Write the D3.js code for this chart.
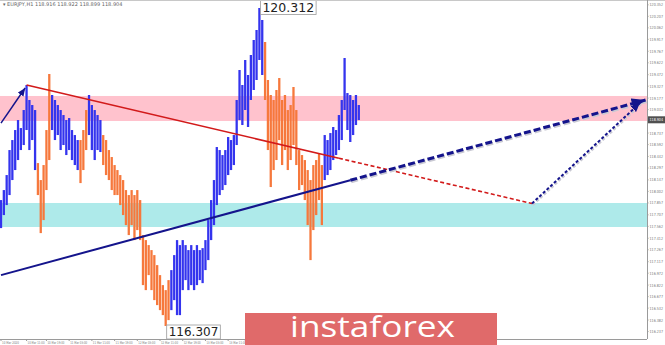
<!DOCTYPE html>
<html>
<head>
<meta charset="utf-8">
<script src="https://cdn.jsdelivr.net/npm/d3@7"></script>
<style>
  body { margin: 0; background: #fff; }
  svg { display: block; font-family: 'DejaVu Sans', sans-serif; }
</style>
</head>
<body>
<div id="chart"></div>
<script>
// hourly bars, high / low
const barHigh = [
  117.893, 118.019, 118.208, 118.523, 118.649, 118.775, 118.901, 118.800, 119.027, 119.342,
  119.153, 119.090, 119.027, 118.359, 118.145, 118.334, 118.775, 119.481, 119.216, 119.153,
  119.090, 119.027, 118.964, 118.901, 118.926, 118.775, 118.712, 118.649, 118.649, 118.775,
  119.027, 119.216, 119.090, 119.027, 118.964, 118.901, 118.712, 118.649, 118.523, 118.435,
  118.334, 118.271, 118.208, 118.145, 118.019, 117.956, 118.019, 117.956, 118.019, 117.893,
  117.452, 117.389, 117.326, 117.263, 117.200, 117.074, 116.948, 116.822, 116.759, 116.885,
  117.011, 117.200, 117.389, 117.326, 117.389, 117.326, 117.263, 117.326, 117.263, 117.326,
  117.263, 117.288, 117.389, 117.641, 117.893, 118.145, 118.561, 118.523, 118.460, 118.523,
  118.687, 118.649, 118.712, 119.153, 119.531, 119.342, 119.657, 119.468, 119.720, 119.909,
  120.035, 120.312, 120.161, 119.884, 119.405, 119.216, 119.153, 119.279, 119.430, 119.153,
  119.216, 119.027, 119.090, 119.317, 119.027, 118.523, 118.460, 118.397, 118.271, 118.145,
  118.334, 118.397, 118.485, 118.334, 118.712, 118.649, 118.737, 118.813, 118.775, 118.964,
  119.153, 119.682, 119.241, 119.216, 119.153, 119.216, 119.090
];
const barLow = [
  117.540, 117.704, 117.830, 117.956, 118.145, 118.271, 118.397, 118.523, 118.586, 118.775,
  118.523, 118.649, 118.271, 117.956, 117.477, 117.641, 118.019, 118.397, 118.775, 118.649,
  118.712, 118.523, 118.586, 118.460, 118.523, 118.397, 118.334, 118.271, 118.107, 118.271,
  118.523, 118.712, 118.523, 118.397, 118.523, 118.498, 118.334, 118.208, 118.145, 118.019,
  117.956, 117.956, 117.830, 117.704, 117.578, 117.452, 117.578, 117.389, 117.515, 117.389,
  116.822, 116.759, 116.948, 116.759, 116.633, 116.570, 116.507, 116.444, 116.307, 116.381,
  116.507, 116.633, 116.444, 116.444, 116.759, 116.885, 116.759, 116.822, 116.759, 116.822,
  116.885, 116.847, 117.011, 117.137, 117.389, 117.578, 117.830, 117.956, 118.019, 118.082,
  118.208, 118.271, 118.334, 118.586, 118.901, 118.838, 119.027, 118.813, 119.153, 119.279,
  119.405, 119.657, 119.468, 119.153, 118.523, 118.057, 118.271, 118.397, 118.649, 118.334,
  118.523, 118.271, 118.397, 118.586, 118.334, 118.019, 118.082, 117.893, 117.578, 117.137,
  117.515, 117.704, 117.893, 117.578, 118.145, 118.208, 118.271, 118.397, 118.460, 118.523,
  118.649, 119.027, 118.775, 118.624, 118.712, 118.838, 118.901
];
// wave colouring: [first bar, last bar, side]
const waveRuns = [
  [0, 12, 'up'], [13, 17, 'down'], [18, 27, 'up'], [28, 30, 'down'], [31, 35, 'up'],
  [36, 59, 'down'], [60, 92, 'up'], [93, 113, 'down'], [114, 126, 'up']
];

const priceTicks = [
  '120.352', '120.207', '120.062', '119.917', '119.767', '119.622', '119.472', '119.327',
  '119.177', '119.032', '118.737', '118.592', '118.442', '118.297', '118.147', '118.002',
  '117.857', '117.707', '117.562', '117.412', '117.267', '117.117', '116.972', '116.822',
  '116.677', '116.532', '116.382', '116.237'
];
const lastPrice = 118.904;
const timeTickBars = [0, 9, 16, 24, 32, 40, 48, 56, 64, 72, 80, 86];
const timeTickLabels = [
  '10 Mar 2020', '10 Mar 11:00', '10 Mar 19:00', '11 Mar 03:00', '11 Mar 11:00', '11 Mar 19:00',
  '12 Mar 03:00', '12 Mar 11:00', '12 Mar 19:00', '13 Mar 03:00', '13 Mar 11:00', '13 Mar 19:00'
];

// zones [top, bottom] in price
const resistanceZone = [119.204, 118.889];
const supportZone = [117.856, 117.554];

// trend lines in (bar, price); solidTo = bar where dashes start
const upperTrend = { from: [9, 119.342], to: [187, 117.850], solidTo: 119 };
const lowerTrend = { from: [0, 116.948], to: [227, 119.153], solidTo: 123 };
const firstWave = { from: [0, 118.863], to: [8.5, 119.304] };
const forecastLeg = { from: [187, 117.850], to: [225, 119.115] };

const W = 665, H = 345;
const plotRight = 647, plotBottom = 339;

const svg = d3.select('#chart').append('svg')
  .attr('width', W)
  .attr('height', H);

const x = d3.scaleLinear().domain([0, 227.5]).range([1, plotRight]);
const y = d3.scaleLinear().domain([116.307, 120.312]).range([326, 8]);

const colour = { up: '#3434ee', down: '#f6783c' };
const navy = '#14148c';

const defs = svg.append('defs');
defs.append('clipPath').attr('id', 'plot')
  .append('rect').attr('x', 0).attr('y', 0).attr('width', plotRight).attr('height', plotBottom);

function arrowMarker(id, len, wid) {
  defs.append('marker')
    .attr('id', id)
    .attr('markerUnits', 'userSpaceOnUse')
    .attr('viewBox', `0 0 ${len} ${wid}`)
    .attr('refX', len).attr('refY', wid / 2)
    .attr('markerWidth', len).attr('markerHeight', wid)
    .attr('orient', 'auto')
    .append('path')
    .attr('d', `M0,0L${len},${wid / 2}L0,${wid}Z`)
    .attr('fill', navy);
}
arrowMarker('bigArrow', 14, 11);
arrowMarker('smallArrow', 8, 7);
arrowMarker('legArrow', 9, 8);

const plot = svg.append('g').attr('clip-path', 'url(#plot)');

// zones
plot.append('rect')
  .attr('x', 0).attr('width', plotRight)
  .attr('y', y(resistanceZone[0]))
  .attr('height', y(resistanceZone[1]) - y(resistanceZone[0]))
  .attr('fill', '#ffc2cd');
plot.append('rect')
  .attr('x', 0).attr('width', plotRight)
  .attr('y', y(supportZone[0]))
  .attr('height', y(supportZone[1]) - y(supportZone[0]))
  .attr('fill', '#aeeaea');

// bars
const bars = barHigh.map((h, i) => {
  const run = waveRuns.find(r => i >= r[0] && i <= r[1]);
  return { i, high: h, low: barLow[i], side: run ? run[2] : 'up' };
});

plot.selectAll('line.bar')
  .data(bars)
  .join('line')
  .attr('class', 'bar')
  .attr('x1', d => x(d.i))
  .attr('x2', d => x(d.i))
  .attr('y1', d => y(d.high))
  .attr('y2', d => y(d.low))
  .attr('stroke', d => colour[d.side])
  .attr('stroke-width', 2.3);

// helpers for lines
const pt = p => [x(p[0]), y(p[1])];
const along = (ln, bar) => {
  const t = (bar - ln.from[0]) / (ln.to[0] - ln.from[0]);
  return [bar, ln.from[1] + t * (ln.to[1] - ln.from[1])];
};
const seg = (a, b) => `M${pt(a).join(',')}L${pt(b).join(',')}`;

// upper (red) trend line
const redSplit = along(upperTrend, upperTrend.solidTo);
plot.append('path').attr('d', seg(upperTrend.from, redSplit))
  .attr('stroke', '#d21a1a').attr('stroke-width', 1.6).attr('fill', 'none');
plot.append('path').attr('d', seg(redSplit, upperTrend.to))
  .attr('stroke', '#d21a1a').attr('stroke-width', 1.6).attr('fill', 'none')
  .attr('stroke-dasharray', '4,2.5');

// lower (navy) trend line and its projection
const navySplit = along(lowerTrend, lowerTrend.solidTo);
plot.append('path').attr('d', seg(lowerTrend.from, navySplit))
  .attr('stroke', navy).attr('stroke-width', 2).attr('fill', 'none');
plot.append('path').attr('d', seg(navySplit, lowerTrend.to))
  .attr('transform', 'translate(1,1.5)')
  .attr('stroke', '#c9c9d3').attr('stroke-width', 3).attr('fill', 'none')
  .attr('stroke-dasharray', '7,3');
plot.append('path').attr('d', seg(navySplit, lowerTrend.to))
  .attr('stroke', navy).attr('stroke-width', 3).attr('fill', 'none')
  .attr('stroke-dasharray', '7,3')
  .attr('marker-end', 'url(#bigArrow)');

// forecast leg from the support zone
plot.append('path').attr('d', seg(forecastLeg.from, forecastLeg.to))
  .attr('transform', 'translate(1,1.5)')
  .attr('stroke', '#c9c9d3').attr('stroke-width', 2).attr('fill', 'none')
  .attr('stroke-dasharray', '3,2');
plot.append('path').attr('d', seg(forecastLeg.from, forecastLeg.to))
  .attr('stroke', navy).attr('stroke-width', 2).attr('fill', 'none')
  .attr('stroke-dasharray', '3,2')
  .attr('marker-end', 'url(#legArrow)');

// first wave arrow
plot.append('path').attr('d', seg(firstWave.from, firstWave.to))
  .attr('stroke', navy).attr('stroke-width', 1.5).attr('fill', 'none')
  .attr('marker-end', 'url(#smallArrow)');

// extreme price labels
const fmt = d3.format('.3f');
const hiIdx = d3.maxIndex(barHigh);
const loIdx = d3.minIndex(barLow);

function priceTag(cx, top, text, size) {
  const g = svg.append('g');
  const t = g.append('text')
    .attr('x', cx + 3).attr('y', top + size - 1)
    .attr('font-size', size).attr('fill', '#222')
    .text(text);
  const w = t.node().getComputedTextLength();
  g.insert('rect', 'text')
    .attr('x', cx + 1).attr('y', top)
    .attr('width', w + 4).attr('height', size + 2)
    .attr('fill', '#fff').attr('stroke', '#9a9a9a').attr('stroke-width', 0.8);
}
priceTag(x(hiIdx), 0, fmt(barHigh[hiIdx]), 12.5);

// axes frame
svg.append('line').attr('x1', 0).attr('x2', W).attr('y1', 0.5).attr('y2', 0.5)
  .attr('stroke', '#c8c8c8');
svg.append('line').attr('x1', plotRight + 0.5).attr('x2', plotRight + 0.5)
  .attr('y1', 0).attr('y2', plotBottom).attr('stroke', '#9a9a9a');
svg.append('line').attr('x1', 0).attr('x2', plotRight).attr('y1', plotBottom + 0.5).attr('y2', plotBottom + 0.5)
  .attr('stroke', '#9a9a9a');

// price axis
const yAxis = svg.append('g').attr('font-size', 4.2).attr('fill', '#777');
priceTicks.forEach(v => {
  const py = y(+v);
  yAxis.append('line').attr('x1', plotRight).attr('x2', plotRight + 1.5)
    .attr('y1', py).attr('y2', py).attr('stroke', '#9a9a9a');
  yAxis.append('text').attr('x', plotRight + 2.5).attr('y', py + 1.5)
    .attr('textLength', 13.5).attr('lengthAdjust', 'spacingAndGlyphs')
    .text(v);
});
svg.append('rect')
  .attr('x', plotRight + 1).attr('y', y(lastPrice) - 3.5)
  .attr('width', W - plotRight - 1).attr('height', 7)
  .attr('fill', '#505050');
svg.append('text')
  .attr('x', plotRight + 2.5).attr('y', y(lastPrice) + 1.5)
  .attr('font-size', 4.2).attr('fill', '#fff')
  .attr('textLength', 13.5).attr('lengthAdjust', 'spacingAndGlyphs')
  .text(fmt(lastPrice));

// time axis
const xAxis = svg.append('g').attr('font-size', 3.8).attr('fill', '#777');
timeTickBars.forEach((b, k) => {
  xAxis.append('line').attr('x1', x(b)).attr('x2', x(b))
    .attr('y1', plotBottom).attr('y2', plotBottom + 2).attr('stroke', '#9a9a9a');
  xAxis.append('text').attr('x', x(b) + 1).attr('y', 343.5)
    .attr('textLength', 17).attr('lengthAdjust', 'spacingAndGlyphs')
    .text(timeTickLabels[k]);
});

priceTag(x(loIdx), 325, fmt(barLow[loIdx]), 12);

// title
svg.append('text').attr('x', 3).attr('y', 6)
  .attr('font-size', 5).attr('fill', '#666')
  .text('\u25BE EURJPY,H1  118.916 118.922 118.899 118.904');

// logo
svg.append('rect').attr('x', 245).attr('y', 313).attr('width', 252).attr('height', 32)
  .attr('fill', '#e06a6a');
svg.append('text').attr('x', 290).attr('y', 337)
  .attr('font-family', "'Open Sans', sans-serif")
  .attr('font-size', 29).attr('fill', '#fff')
  .attr('textLength', 165).attr('lengthAdjust', 'spacingAndGlyphs')
  .text('instaforex');
</script>
</body>
</html>
